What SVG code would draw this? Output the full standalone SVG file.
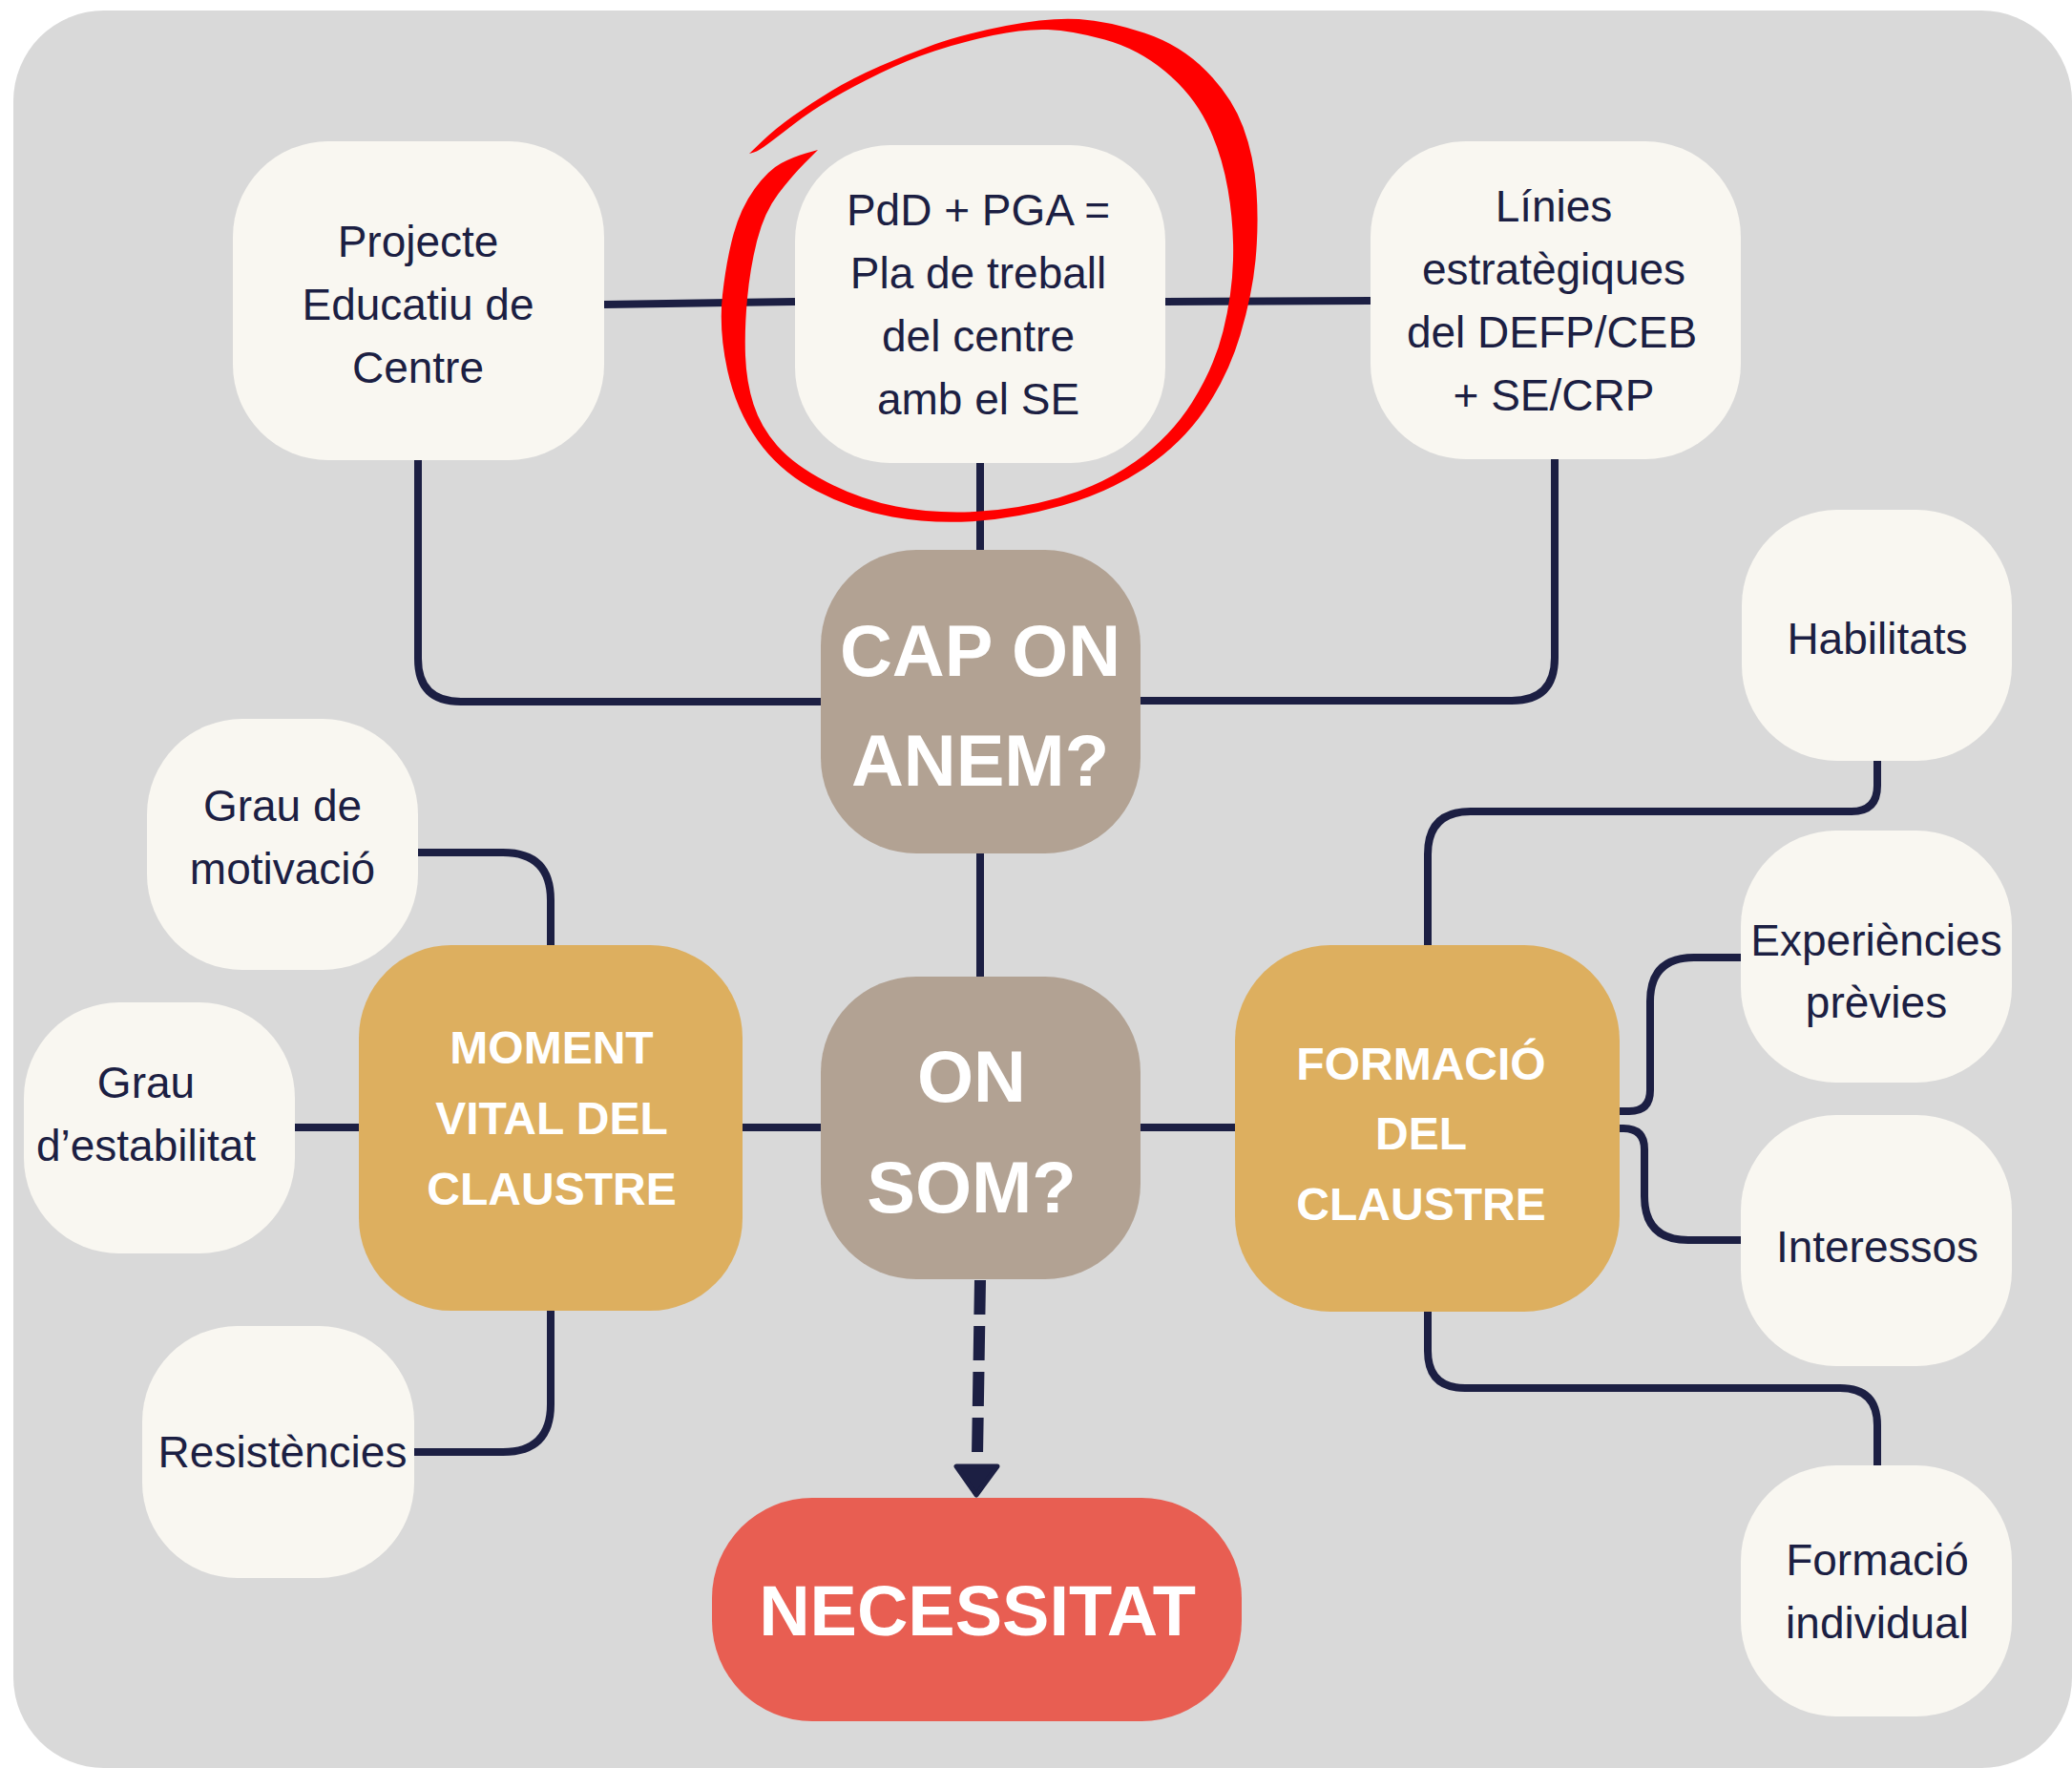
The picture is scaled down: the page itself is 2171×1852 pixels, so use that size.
<svg xmlns="http://www.w3.org/2000/svg" width="2171" height="1852" viewBox="0 0 2171 1852">
<style>
.bg{fill:#d9d9d9}
.cream{fill:#f9f7f1}
.brown{fill:#b2a293}
.gold{fill:#ddaf5f}
.redn{fill:#e85e52}
.ln{fill:none;stroke:#1c1f43;stroke-width:8;stroke-linejoin:round}
.dash{fill:none;stroke:#1c1f43;stroke-width:12;stroke-dasharray:36 12}
.t{font-family:"Liberation Sans",Arial,sans-serif;font-size:46px;fill:#1c1f43;text-anchor:middle}
.b{font-family:"Liberation Sans",Arial,sans-serif;font-size:48px;font-weight:bold;fill:#ffffff;text-anchor:middle}
.big{font-family:"Liberation Sans",Arial,sans-serif;font-size:76px;font-weight:bold;fill:#ffffff;text-anchor:middle}
</style>
<rect class="bg" x="14" y="11" width="2157" height="1841" rx="95" ry="95"/>
<g id="connectors">
<path class="ln" d="M633,319 L833,316"/>
<path class="ln" d="M1221,316 L1436,315"/>
<path class="ln" d="M1027,485 V576"/>
<path class="ln" d="M438,482 V690 Q438,735 483,735 H860"/>
<path class="ln" d="M1629,481 V689 Q1629,734 1584,734 H1195"/>
<path class="ln" d="M1027,894 V1023"/>
<path class="ln" d="M438,893 H527 Q577,893 577,943 V990"/>
<path class="ln" d="M309,1181 H376"/>
<path class="ln" d="M778,1181 H860"/>
<path class="ln" d="M1195,1181 H1294"/>
<path class="ln" d="M577,1373 V1471 Q577,1521 527,1521 H434"/>
<path class="ln" d="M1967,797 V823 Q1967,850 1940,850 H1541 Q1496,850 1496,895 V990"/>
<path class="ln" d="M1689,1164 H1707 Q1729,1164 1729,1142 V1049 Q1729,1003 1775,1003 H1824"/>
<path class="ln" d="M1690,1182 H1701 Q1723,1182 1723,1204 V1253 Q1723,1299 1769,1299 H1824"/>
<path class="ln" d="M1496,1374 V1415 Q1496,1454 1535,1454 H1928 Q1967,1454 1967,1493 V1535"/>
<path class="dash" d="M1027,1341 L1024,1525"/>
<path d="M1002,1536 L1045,1536 L1023,1566 Z" fill="#1c1f43" stroke="#1c1f43" stroke-width="5" stroke-linejoin="round"/>
</g>
<g id="n-projecte">
<rect class="cream" x="244" y="148" width="389" height="334" rx="100"/>
<text class="t" x="438" y="269">Projecte</text>
<text class="t" x="438" y="335">Educatiu de</text>
<text class="t" x="438" y="401">Centre</text>
</g>
<g id="n-pdd">
<rect class="cream" x="833" y="152" width="388" height="333" rx="100"/>
<text class="t" x="1025" y="236">PdD + PGA =</text>
<text class="t" x="1025" y="302">Pla de treball</text>
<text class="t" x="1025" y="368">del centre</text>
<text class="t" x="1025" y="434">amb el SE</text>
</g>
<g id="n-linies">
<rect class="cream" x="1436" y="148" width="388" height="333" rx="100"/>
<text class="t" x="1628" y="232">Línies</text>
<text class="t" x="1628" y="298">estratègiques</text>
<text class="t" x="1626" y="364">del DEFP/CEB</text>
<text class="t" x="1628" y="430">+ SE/CRP</text>
</g>
<g id="n-capon">
<rect class="brown" x="860" y="576" width="335" height="318" rx="100"/>
<text class="big" x="1027" y="708">CAP ON</text>
<text class="big" x="1027" y="823">ANEM?</text>
</g>
<g id="n-onsom">
<rect class="brown" x="860" y="1023" width="335" height="317" rx="100"/>
<text class="big" x="1018" y="1154">ON</text>
<text class="big" x="1018" y="1270">SOM?</text>
</g>
<g id="n-moment">
<rect class="gold" x="376" y="990" width="402" height="383" rx="97"/>
<text class="b" x="578" y="1114">MOMENT</text>
<text class="b" x="578" y="1188">VITAL DEL</text>
<text class="b" x="578" y="1262">CLAUSTRE</text>
</g>
<g id="n-formacio">
<rect class="gold" x="1294" y="990" width="403" height="384" rx="100"/>
<text class="b" x="1489" y="1131">FORMACIÓ</text>
<text class="b" x="1489" y="1204">DEL</text>
<text class="b" x="1489" y="1278">CLAUSTRE</text>
</g>
<g id="n-necessitat">
<rect class="redn" x="746" y="1569" width="555" height="234" rx="105"/>
<text class="big" x="1024" y="1713" style="font-size:74px">NECESSITAT</text>
</g>
<g id="n-motivacio">
<rect class="cream" x="154" y="753" width="284" height="263" rx="100"/>
<text class="t" x="296" y="860">Grau de</text>
<text class="t" x="296" y="926">motivació</text>
</g>
<g id="n-estabilitat">
<rect class="cream" x="25" y="1050" width="284" height="263" rx="100"/>
<text class="t" x="153" y="1150">Grau</text>
<text class="t" x="153" y="1216">d’estabilitat</text>
</g>
<g id="n-resistencies">
<rect class="cream" x="149" y="1389" width="285" height="264" rx="100"/>
<text class="t" x="296" y="1537">Resistències</text>
</g>
<g id="n-habilitats">
<rect class="cream" x="1825" y="534" width="283" height="263" rx="100"/>
<text class="t" x="1967" y="685">Habilitats</text>
</g>
<g id="n-experiencies">
<rect class="cream" x="1824" y="870" width="284" height="264" rx="100"/>
<text class="t" x="1966" y="1001">Experiències</text>
<text class="t" x="1966" y="1066">prèvies</text>
</g>
<g id="n-interessos">
<rect class="cream" x="1824" y="1168" width="284" height="263" rx="100"/>
<text class="t" x="1967" y="1322">Interessos</text>
</g>
<g id="n-individual">
<rect class="cream" x="1824" y="1535" width="284" height="263" rx="100"/>
<text class="t" x="1967" y="1650">Formació</text>
<text class="t" x="1967" y="1716">individual</text>
</g>
<path id="red-circle" fill="#ff0000" d="M785,161 L798.5,148 Q812,135 831,121.5 Q850,108 871.5,95 Q893,82 921.5,69.5 Q950,57 979,46.5 Q1008,36 1054,27 Q1100,18 1130.5,20 Q1161,22 1199,34.5 Q1237,47 1264,74.5 Q1291,102 1302.5,133 Q1314,164 1316.5,200 Q1319,236 1315.5,272.5 Q1312,309 1299.5,351 Q1287,393 1262.5,429 Q1238,465 1199.5,490.5 Q1161,516 1113,529.5 Q1065,543 1021,546 Q977,549 935,541.5 Q893,534 855,514 Q817,494 794,461.5 Q771,429 762,387 Q753,345 757,309 Q761,273 768.5,245.5 Q776,218 790.5,198 Q805,178 818.5,171 Q832,164 844.5,160.5 L857,157 L843.5,170.5 Q830,184 815.5,203 Q801,222 793.5,251 Q786,280 783,312.5 Q780,345 781,372.5 Q782,400 789.5,423.5 Q797,447 814.5,467 Q832,487 866.5,505 Q901,523 939,530.5 Q977,538 1021,536 Q1065,534 1109,521.5 Q1153,509 1189.5,483.5 Q1226,458 1249,421.5 Q1272,385 1281.5,347 Q1291,309 1292,272.5 Q1293,236 1286.5,198 Q1280,160 1264.5,129 Q1249,98 1220.5,74.5 Q1192,51 1157.5,41.5 Q1123,32 1098,31 Q1073,30 1040.5,37 Q1008,44 979,53.5 Q950,63 921.5,77 Q893,91 871.5,103.5 Q850,116 832.5,129.5 Q815,143 805,150.5 Q795,158 790,159.5 Z"/>
</svg>
